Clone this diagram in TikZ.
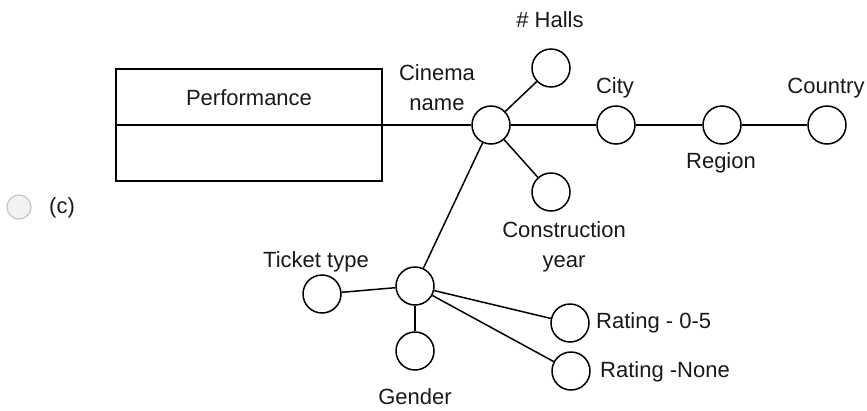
\documentclass[tikz,border=0pt]{standalone}
\usepackage{fontspec}
\setmainfont{Liberation Sans}
\begin{document}
\begin{tikzpicture}[x=1pt,y=-1pt,
  attr/.style={draw, circle, minimum size=38pt, inner sep=0pt, line width=1.5pt, fill=white},
  lbl/.style={font=\fontsize{22}{29}\selectfont, inner sep=0pt, anchor=base, text=black!90},
  conn/.style={line width=1.5pt}]
\useasboundingbox (0,0) rectangle (867,410);
% radio button
\node[circle, draw=gray!45, fill=gray!10, line width=1.2pt, minimum size=24pt, inner sep=0pt] (radio) at (19,207) {};
\node[lbl] (clabel) at (62,213) {(c)};
% entity
\node[draw, line width=2pt, minimum width=266pt, minimum height=112pt, inner sep=0pt] (perf) at (249,125) {};
\draw[line width=2pt] (perf.west) -- (perf.east);
\node[lbl] (perftxt) at (249,105) {Performance};
% attribute circles
\node[attr] (cin) at (491,125) {};
\node[attr] (halls) at (551,68) {};
\node[attr] (city) at (616,125) {};
\node[attr] (region) at (722,125) {};
\node[attr] (country) at (827,125) {};
\node[attr] (constr) at (551,192) {};
\node[attr] (ticket) at (415,286) {};
\node[attr] (ttype) at (322,294) {};
\node[attr] (gender) at (415,351) {};
\node[attr] (r05) at (570,323) {};
\node[attr] (rnone) at (571,371) {};
% connectors
\draw[conn] (perf.east) -- (cin);
\draw[conn] (cin) -- (halls);
\draw[conn] (cin) -- (city);
\draw[conn] (city) -- (region);
\draw[conn] (region) -- (country);
\draw[conn] (cin) -- (constr);
\draw[conn] (cin) -- (ticket);
\draw[conn] (ticket) -- (ttype);
\draw[conn] (ticket) -- (gender);
\draw[conn] (ticket) -- (r05);
\draw[conn] (ticket) -- (rnone);
% labels
\node[lbl] (lhalls) at (550,27) {\# Halls};
\node[lbl] (lcin1) at (437,80) {Cinema};
\node[lbl] (lcin2) at (437,110) {name};
\node[lbl] (lcity) at (615,93) {City};
\node[lbl] (lcountry) at (826,93) {Country};
\node[lbl] (lregion) at (721,168) {Region};
\node[lbl] (lcon1) at (564,237) {Construction};
\node[lbl] (lcon2) at (564,267) {year};
\node[lbl] (lttype) at (316,267) {Ticket type};
\node[lbl] (lgender) at (415,404) {Gender};
\node[lbl, anchor=base west] (lr05) at (596,328) {Rating - 0-5};
\node[lbl, anchor=base west] (lrnone) at (600,377) {Rating -None};
\end{tikzpicture}
\end{document}
